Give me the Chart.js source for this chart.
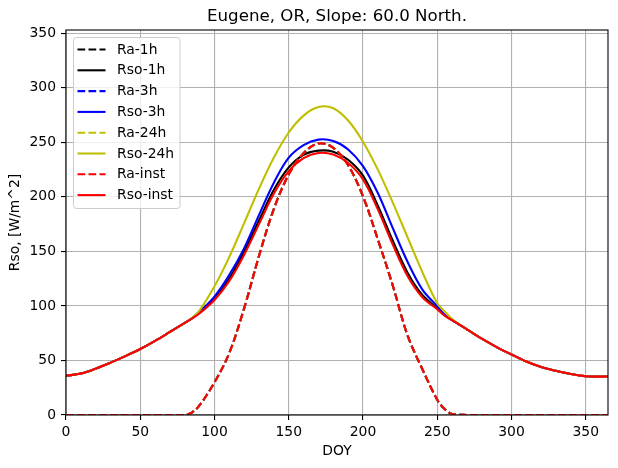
<!DOCTYPE html>
<html><head><meta charset="utf-8">
<script src="https://cdn.jsdelivr.net/npm/chart.js@4"></script>
<style>html,body{margin:0;padding:0;background:#fff}#wrap{width:618px;height:468px}</style>
</head><body><div id="wrap"><canvas id="c" width="618" height="468"></canvas></div>
<script>
const chartTitle = 'Eugene, OR, Slope: 60.0 North.';
const xLabel = 'DOY';
const yLabel = 'Rso, [W/m^2]';
const seriesNames = ['Ra-1h','Rso-1h','Ra-3h','Rso-3h','Ra-24h','Rso-24h','Ra-inst','Rso-inst'];
const doy = [0,10,20,30,40,50,60,70,80,85,90,100,110,120,130,140,150,160,170,180,190,200,210,220,230,240,250,255,260,270,280,290,300,310,320,330,340,350,360,365];
const ra1h    = [0,0,0,0,0,0,0,0,0,2.5,9,30,57,98,146,189,220.5,240,249,245,229,200.5,161,119,73,42,14,5.5,1,0,0,0,0,0,0,0,0,0,0,0];
const rso1h   = [36,38,42.5,48,54,60.5,68,76.2,84.5,88.7,93.8,106.5,125,150,178.5,206.5,227,238.5,242.4,241.4,234,219.5,192,160,130.5,110,97.8,91.5,87,78.5,70,62.3,55.5,49,44,40.5,37.5,35.5,35.2,35.5];
const ra3h    = [0,0,0,0,0,0,0,0,0,2.5,9,30,57,98,146,189,220.5,240,249,245,229,200.5,161,119,73,42,14,5.5,1,0,0,0,0,0,0,0,0,0,0,0];
const rso3h   = [36,38,42.5,48,54,60.5,68,76.2,84.5,88.9,94.8,108.6,128.5,153,183.5,213,235.9,247.5,252.5,251.2,243.5,228.2,203.5,171.5,140.5,115,99.8,92,87.2,78.5,70,62.3,55.5,49,44,40.5,37.5,35.5,35.2,35.5];
const ra24h   = [0,0,0,0,0,0,0,0,0,2.5,9,30,57,98,146,189,220.5,240,249,245,229,200.5,161,119,73,42,14,5.5,1,0,0,0,0,0,0,0,0,0,0,0];
const rso24h  = [36,38,42.5,48,54,60.5,68,76.2,84.5,89.2,96,118,145,176,207.5,236,259,274.5,282.3,281.3,270,250.6,225,195,163,131,102.5,95,88,78.5,70,62.3,55.5,49,44,40.5,37.5,35.5,35.2,35.5];
const raInst  = [0,0,0,0,0,0,0,0,0,2.5,9,30,57,98,146,189,220.5,240,249,245,229,200.5,161,119,73,42,14,5.5,1,0,0,0,0,0,0,0,0,0,0,0];
const rsoInst = [36,38,42.5,48,54,60.5,68,76.2,84.5,88.7,93.3,105.5,123,147,175,203,223.6,235.5,240.3,238.8,231,216,188.5,156.5,127.5,108,97,91,87,78.5,70,62.3,55.5,49,44,40.5,37.5,35.5,35.2,35.5];
const xTicks = [0,50,100,150,200,250,300,350];
const yTicks = [0,50,100,150,200,250,300,350];

const LW = 2.08;
const DASH = [7.7, 3.3];
const colors = ['#000000','#000000','#0000ff','#0000ff','#bfbf00','#bfbf00','#ff0000','#ff0000'];
const values = [ra1h, rso1h, ra3h, rso3h, ra24h, rso24h, raInst, rsoInst];

const datasets = values.map((vals, i) => ({
  label: seriesNames[i],
  data: doy.map((d, k) => ({x: d, y: vals[k]})),
  borderColor: colors[i],
  backgroundColor: colors[i],
  borderWidth: LW,
  borderDash: (i % 2 === 0) ? DASH : [],
  pointRadius: 0,
  fill: false,
  tension: 0.35,
  order: 7 - i
}));

const FONT = 'DejaVu Sans';

const decor = {
  id: 'decor',
  afterDatasetsDraw(chart) {
    const ctx = chart.ctx, a = chart.chartArea;
    ctx.save();
    ctx.strokeStyle = '#000';
    ctx.lineWidth = 1.1;
    ctx.setLineDash([]);
    ctx.strokeRect(a.left, a.top, a.right - a.left, a.bottom - a.top);
    const bx = 73.5, by = 37.5, bw = 106.5, bh = 171, r = 3;
    ctx.beginPath();
    ctx.moveTo(bx + r, by);
    ctx.lineTo(bx + bw - r, by); ctx.quadraticCurveTo(bx + bw, by, bx + bw, by + r);
    ctx.lineTo(bx + bw, by + bh - r); ctx.quadraticCurveTo(bx + bw, by + bh, bx + bw - r, by + bh);
    ctx.lineTo(bx + r, by + bh); ctx.quadraticCurveTo(bx, by + bh, bx, by + bh - r);
    ctx.lineTo(bx, by + r); ctx.quadraticCurveTo(bx, by, bx + r, by);
    ctx.closePath();
    ctx.fillStyle = 'rgba(255,255,255,0.8)';
    ctx.fill();
    ctx.strokeStyle = '#cccccc';
    ctx.lineWidth = 1;
    ctx.stroke();
    ctx.font = '13.9px "' + FONT + '"';
    ctx.textBaseline = 'middle';
    ctx.textAlign = 'left';
    chart.data.datasets.forEach((ds, i) => {
      const y = 49.5 + i * 20.8;
      ctx.beginPath();
      ctx.setLineDash(ds.borderDash);
      ctx.strokeStyle = ds.borderColor;
      ctx.lineWidth = LW;
      ctx.moveTo(77.5, y); ctx.lineTo(105.5, y);
      ctx.stroke();
      ctx.setLineDash([]);
      ctx.fillStyle = '#000';
      ctx.fillText(ds.label, 117, y + 0.5);
    });
    ctx.font = '16.67px "' + FONT + '"';
    ctx.textAlign = 'center';
    ctx.fillStyle = '#000';
    ctx.fillText(chartTitle, (a.left + a.right) / 2, 17);
    ctx.restore();
  }
};

new Chart(document.getElementById('c'), {
  type: 'line',
  data: { datasets },
  options: {
    responsive: false,
    animation: false,
    devicePixelRatio: 1,
    layout: { padding: { left: 0, top: 30, right: 10, bottom: 0 } },
    plugins: { legend: { display: false }, title: { display: false }, tooltip: { enabled: false } },
    scales: {
      x: {
        type: 'linear', min: 0, max: 365,
        afterFit: s => { s.height = 53; },
        afterBuildTicks: s => { s.ticks = xTicks.map(v => ({value: v})); },
        grid: { color: '#b0b0b0', lineWidth: 1.1, tickLength: 5, tickColor: '#000', tickWidth: 1.1 },
        border: { display: false },
        ticks: { color: '#000', padding: 4, maxRotation: 0, font: { family: FONT, size: 13.9 } },
        title: { display: true, text: xLabel, color: '#000', padding: { top: 0, bottom: 8.5 }, font: { family: FONT, size: 13.9 } }
      },
      y: {
        type: 'linear', min: 0, max: 353,
        afterFit: s => { s.width = 66; },
        afterBuildTicks: s => { s.ticks = yTicks.map(v => ({value: v})); },
        grid: { color: '#b0b0b0', lineWidth: 1.1, tickLength: 5, tickColor: '#000', tickWidth: 1.1 },
        border: { display: false },
        ticks: { color: '#000', padding: 5, font: { family: FONT, size: 13.9 } },
        title: { display: true, text: yLabel, color: '#000', padding: { top: 7.5, bottom: 0 }, font: { family: FONT, size: 13.9 } }
      }
    }
  },
  plugins: [decor]
});
</script>
</body></html>
